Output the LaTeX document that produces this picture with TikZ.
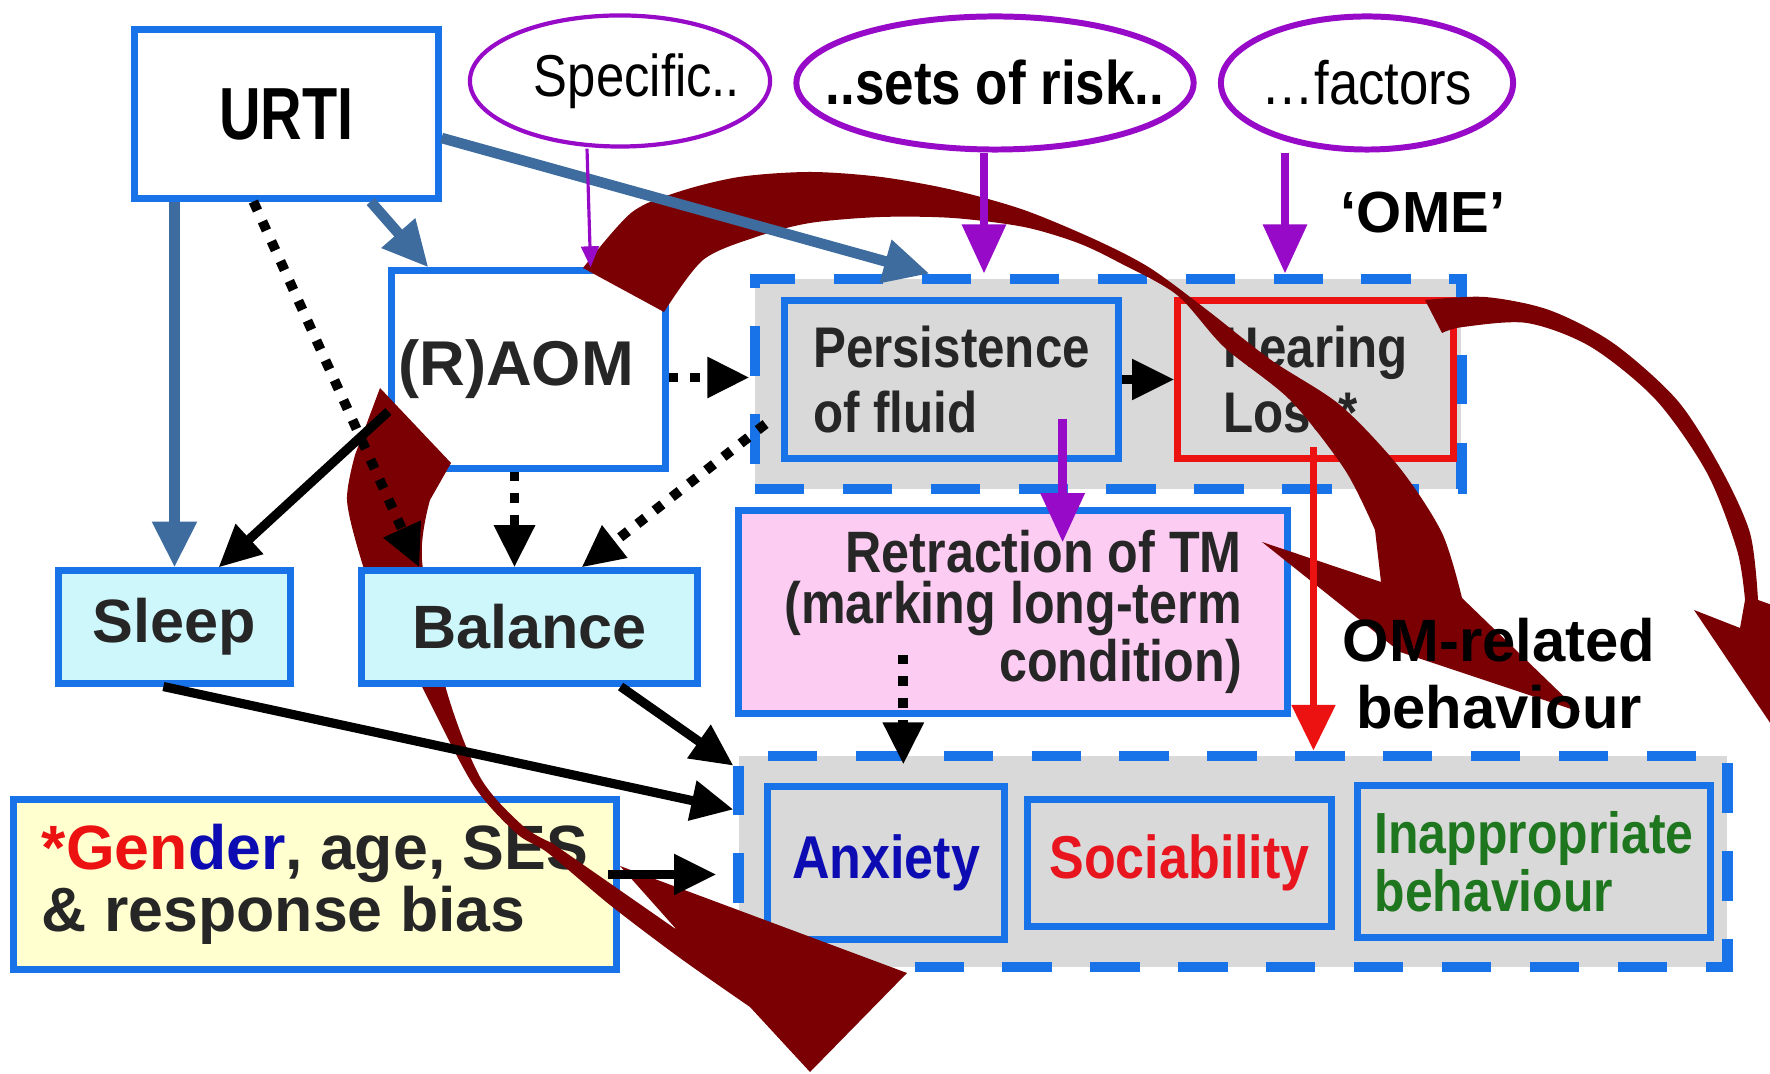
\documentclass[tikz,border=0pt]{standalone}
\usepackage{fontspec}
\setmainfont{Liberation Sans}
\newfontfamily\narrowfont{Liberation Sans}[FakeStretch=0.86]
\newfontfamily\urtifont{Liberation Sans}[FakeStretch=0.78]
\usetikzlibrary{shapes.geometric,arrows.meta,calc}
\newcommand\setfs[2]{\fontsize{#1}{#2}\selectfont}
\definecolor{boxblue}{RGB}{25,115,232}
\definecolor{steel}{RGB}{62,108,158}
\definecolor{riskpurple}{RGB}{150,10,200}
\definecolor{omred}{RGB}{122,0,4}
\definecolor{groupgray}{RGB}{217,217,217}
\definecolor{sleepcyan}{RGB}{206,247,252}
\definecolor{genderyellow}{RGB}{255,255,208}
\definecolor{tmpink}{RGB}{252,204,242}
\definecolor{hlred}{RGB}{236,18,18}
\definecolor{anxblue}{RGB}{12,12,178}
\definecolor{socred}{RGB}{232,20,30}
\definecolor{inapgreen}{RGB}{30,118,30}
\definecolor{boxtext}{RGB}{38,38,38}

\begin{document}
\begin{tikzpicture}[x=0.01cm,y=-0.01cm,
  every node/.style={align=center,inner sep=0pt},
  box/.style={draw=boxblue,line width=2pt,text=boxtext},
  group/.style={draw=boxblue,fill=groupgray,line width=3pt,dash pattern=on 14pt off 11pt},
  risk/.style={ellipse,draw=riskpurple,line width=1.7pt},
  blueline/.style={draw=steel,line width=3pt,-{Triangle[length=13pt,width=12pt]}},
  blackline/.style={line width=2.6pt,-{Triangle[length=12pt,width=11pt]}},
  blackdot/.style={line width=2.8pt,dash pattern=on 2.8pt off 3.4pt,-{Triangle[length=12pt,width=11pt]}},
  riskline/.style={draw=riskpurple,line width=2.5pt,-{Triangle[length=14pt,width=12pt]}},
  thinrisk/.style={draw=riskpurple,line width=0.9pt,-{Triangle[length=6pt,width=5pt]}},
  hearline/.style={draw=hlred,line width=2.2pt,-{Triangle[length=13pt,width=12pt]}}]
\useasboundingbox (0,0) rectangle (1770,1074);
\clip (0,0) rectangle (1770,1074);

\node[group,minimum width=7.06cm,minimum height=2.10cm] (ome) at (1108,384) {};
\node[group,minimum width=9.88cm,minimum height=2.11cm] (om) at (1233,861.5) {};

\node[risk,line width=1.2pt,minimum width=3.00cm,minimum height=1.31cm,
  font=\narrowfont\setfs{16.8}{19}] (spec) at (620,81) {\makebox[0pt]{\hspace*{0.34cm}Specific..}};
\node[risk,minimum width=3.97cm,minimum height=1.33cm,
  font=\narrowfont\bfseries\setfs{17.5}{19}] (sets) at (995,83) {\makebox[0pt]{..sets of risk..}};
\node[risk,minimum width=2.92cm,minimum height=1.33cm,
  font=\narrowfont\setfs{17.4}{19}] (factors) at (1367,83) {\makebox[0pt]{…factors}};

\node[box,text=black,minimum width=3.03cm,minimum height=1.68cm,
  font=\urtifont\bfseries\setfs{21}{23}] (urti) at (286.5,114) {URTI};
\node[box,minimum width=2.73cm,minimum height=1.97cm,
  font=\bfseries\setfs{18}{20}] (raom) at (528.5,369.5) {(R)AOM\hspace*{0.25cm}};
\node[box,fill=groupgray,minimum width=3.33cm,minimum height=1.57cm,align=left,
  font=\narrowfont\bfseries\setfs{16.3}{18.5}] (persist) at (951.5,379.5) {Persistence\\of fluid};
\node[box,draw=hlred,fill=groupgray,minimum width=2.75cm,minimum height=1.57cm,align=left,
  font=\narrowfont\bfseries\setfs{16.3}{18.5}] (hearing) at (1315.5,379.5) {Hearing\\Loss*};
\node[box,fill=tmpink,minimum width=5.48cm,minimum height=2.02cm,align=right,
  font=\narrowfont\bfseries\setfs{16.6}{14.6}] (retract) at (1013,612)
  {Retraction of TM\\(marking long-term\\condition)};
\node[box,fill=groupgray,text=anxblue,minimum width=2.36cm,minimum height=1.52cm,
  font=\narrowfont\bfseries\setfs{17.2}{19}] (anxiety) at (886,863) {Anxiety};
\node[box,fill=groupgray,text=socred,minimum width=3.03cm,minimum height=1.26cm,
  font=\narrowfont\bfseries\setfs{17.2}{19}] (social) at (1179.5,863) {Sociability};
\node[box,fill=groupgray,text=inapgreen,minimum width=3.52cm,minimum height=1.51cm,align=left,
  font=\narrowfont\bfseries\setfs{16.5}{12.6}] (inappr) at (1534,861.5) {Inappropriate\\behaviour};
\node[box,fill=sleepcyan,minimum width=2.31cm,minimum height=1.12cm,
  font=\bfseries\setfs{17.4}{19}] (sleep) at (174.5,627) {Sleep};
\node[box,fill=genderyellow,minimum width=6.02cm,minimum height=1.69cm,align=left,
  font=\bfseries\setfs{17.8}{16.2}] (gender) at (315,884.5)
  {{\color{hlred}*Gen}{\color{anxblue}der}, age, SES\\\& response bias};

% curved arrows
\fill[omred] plot[smooth] coordinates {(583,268) (631,213) (678,192) (739,177) (810,172)
    (881,177) (953,190) (1024,210) (1096,240) (1150,268) (1207,310) (1271,360) (1340,405)
    (1399,467) (1442,533) (1462,598)}
  -- (1580,712) -- (1400,652) -- (1262,542) -- (1381,582)
  -- plot[smooth] coordinates {(1375,530) (1345,470) (1290,400) (1224,347) (1177,295)
    (1120,263) (1078,243) (1024,227) (953,218) (881,217) (810,223) (756,237) (703,260)
    (664,312)} -- cycle;
\fill[omred] plot[smooth] coordinates {(1425,300) (1485,297) (1549,310) (1613,343)
    (1677,400) (1720,467) (1750,533) (1758,600)}
  -- (1800,615) -- (1785,745) -- (1694,610) -- (1740,628)
  -- plot[smooth] coordinates {(1745,600) (1737,550) (1707,473) (1656,400) (1591,347)
    (1527,323) (1463,327) (1442,333)} -- cycle;
\fill[omred] (380,388) -- (451,463)
  -- plot[smooth] coordinates {(430,500) (422,560) (445,685) (480,777) (523,826) (552,843)}
  -- (677,930) -- (620,866) -- (907,973) -- (810,1072)
  -- plot[smooth] coordinates {(750,1007) (680,958) (610,905) (548,853) (516,833) (472,783)
    (418,679) (378,605) (360,556) (347,500) (355,455)} -- cycle;

\node[box,fill=sleepcyan,minimum width=3.35cm,minimum height=1.12cm,
  font=\bfseries\setfs{17.4}{19}] (balance) at (529.5,627) {Balance};

\node[font=\bfseries\setfs{16.5}{19}] (omelabel) at (1423,213) {‘OME’};
\node[font=\bfseries\setfs{17}{19}] (omrellabel) at (1499,674) {OM-related\\behaviour};

\draw[blueline] (sleep.north |- urti.south) -- (sleep.north);
\draw[blueline] ($(urti.south east)+(-71,0)$) -- ($(raom.north west)+(40,0)$);
\draw[blueline] ($(urti.east)+(0,24)$) -- ($(ome.north west)+(180,0)$);
\draw[blackdot] ($(urti.south west)+(122,0)$) -- ($(balance.north west)+(61,0)$);
\draw[thinrisk] ($(spec.south)+(-33,0)$) -- ($(raom.north east)+(-78,0)$);
\draw[riskline] ($(sets.south)+(-11,0)$) coordinate (s1) -- (s1 |- ome.north);
\draw[riskline] ($(factors.south)+(-82,0)$) coordinate (f1) -- (f1 |- ome.north);
\draw[blackdot] ($(raom.east)+(0,8)$) coordinate (r1) -- (r1 -| ome.west);
\draw[blackdot] ($(raom.south)+(-14,0)$) coordinate (r2) -- (r2 |- balance.north);
\draw[blackdot] ($(ome.west)+(16,40)$) -- ($(balance.north)+(52,0)$);
\draw[blackline] ($(raom.west)+(0,42)$) -- ($(sleep.north)+(44,0)$);
\draw[blackline] (persist.east) -- (hearing.west);
\draw[riskline] ($(persist.south east)+(-59,-43)$) coordinate (p1) -- ($(p1 |- retract.north)+(0,35)$);
\draw[hearline] ($(hearing.south)+(-2,-15)$) coordinate (h1) -- (h1 |- om.north);
\draw[blackdot] ($(retract.south west)+(168,-62)$) coordinate (t1) -- ($(t1 |- om.north)+(0,14)$);
\draw[blackline] ($(sleep.south west)+(108,0)$) -- ($(om.west)+(0,-52)$);
\draw[blackline] ($(balance.south east)+(-80,0)$) -- ($(om.north west)+(0,15)$);
\draw[blackline] ($(gender.east)+(-12,-10)$) -- ($(om.west)+(-17,13)$);
\end{tikzpicture}
\end{document}
